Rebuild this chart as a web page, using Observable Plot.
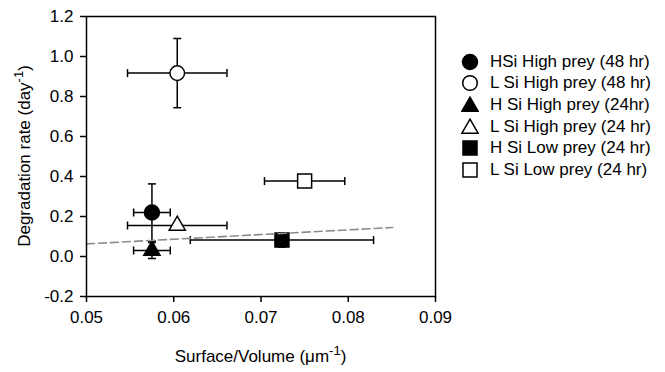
<!DOCTYPE html>
<html>
<head>
<meta charset="utf-8">
<script src="https://cdn.jsdelivr.net/npm/d3@7"></script>
<script src="https://cdn.jsdelivr.net/npm/@observablehq/plot@0.6"></script>
<style>
  html, body { margin: 0; padding: 0; background: #fff; }
  #wrap { position: relative; width: 665px; height: 372px; font-family: "Liberation Sans", Arial, sans-serif; color: #000; }
  #wrap svg.plot g[aria-label$="axis tick"] { stroke-width: 1.5; }
  #legend { position: absolute; left: 0; top: 0; width: 665px; height: 372px; pointer-events: none; }
  .lrow { position: absolute; height: 22px; display: flex; align-items: center; font-size: 17px; white-space: nowrap; }
  .lrow svg { position: absolute; left: 0; top: 2px; }
  .lrow span { position: absolute; left: 29px; line-height: 22px; }
</style>
</head>
<body>
<div id="wrap"></div>
<script>
// ---- data ----
const series = [
  "HSi High prey (48 hr)",
  "L Si High prey (48 hr)",
  "H Si High prey (24hr)",
  "L Si High prey (24 hr)",
  "H Si Low prey (24 hr)",
  "L Si Low prey (24 hr)"
];
const surfaceVolume    = [0.0575, 0.0604, 0.0575, 0.0604, 0.0724, 0.0750];
const surfaceVolumeErr = [0.0021, 0.0057, 0.0021, 0.0057, 0.0105, 0.0046];
const degradation      = [0.220, 0.917, 0.030, 0.155, 0.082, 0.377];
const degradationErr   = [0.143, 0.173, 0.040, 0.010, 0.035, 0.010];
const trendX = [0.050, 0.0851];
const trendY = [0.063, 0.145];
const xTicks = [0.05, 0.06, 0.07, 0.08, 0.09];
const yTicks = [-0.2, 0.0, 0.2, 0.4, 0.6, 0.8, 1.0, 1.2];

// ---- styles ----
const markerStyle = [
  {symbol: "circle",   r: 7.5, fill: "black"},
  {symbol: "circle",   r: 7.3, fill: "white"},
  {symbol: "triangle", r: 6.0, fill: "black"},
  {symbol: "triangle", r: 6.0, fill: "white"},
  {symbol: "square",   r: 7.9, fill: "black"},
  {symbol: "square",   r: 7.9, fill: "white"}
];
const hCap = {draw(ctx, size) { const r = Math.sqrt(size / Math.PI); ctx.moveTo(-r, 0); ctx.lineTo(r, 0); }};
const vCap = {draw(ctx, size) { const r = Math.sqrt(size / Math.PI); ctx.moveTo(0, -r); ctx.lineTo(0, r); }};

const rows = series.map((name, i) => ({
  name, x: surfaceVolume[i], xe: surfaceVolumeErr[i], y: degradation[i], ye: degradationErr[i]
}));
const trend = trendX.map((x, i) => ({x, y: trendY[i]}));

const marks = [];
rows.forEach((d, i) => {
  const data = [d];
  const st = markerStyle[i];
  marks.push(
    Plot.ruleY(data, {y: "y", x1: r => r.x - r.xe, x2: r => r.x + r.xe, stroke: "black", strokeWidth: 1.5}),
    Plot.ruleX(data, {x: "x", y1: r => r.y - r.ye, y2: r => r.y + r.ye, stroke: "black", strokeWidth: 1.5}),
    Plot.dot(data, {x: r => r.x - r.xe, y: "y", symbol: vCap, r: 4, stroke: "black", fill: "none", strokeWidth: 1.5}),
    Plot.dot(data, {x: r => r.x + r.xe, y: "y", symbol: vCap, r: 4, stroke: "black", fill: "none", strokeWidth: 1.5}),
    Plot.dot(data, {x: "x", y: r => r.y - r.ye, symbol: hCap, r: 4, stroke: "black", fill: "none", strokeWidth: 1.5}),
    Plot.dot(data, {x: "x", y: r => r.y + r.ye, symbol: hCap, r: 4, stroke: "black", fill: "none", strokeWidth: 1.5}),
    Plot.dot(data, {x: "x", y: "y", symbol: st.symbol, r: st.r, fill: st.fill, stroke: "black", strokeWidth: 1.5})
  );
});
marks.push(
  Plot.line(trend, {x: "x", y: "y", stroke: "#8c8c8c", strokeWidth: 1.6, strokeDasharray: "8,4"}),
  Plot.frame({stroke: "black", strokeWidth: 1.5})
);

const chart = Plot.plot({
  width: 665,
  height: 372,
  marginLeft: 86,
  marginRight: 230,
  marginTop: 16,
  marginBottom: 76,
  style: {fontSize: "17px", fontFamily: "'Liberation Sans', Arial, sans-serif", color: "black", background: "white", overflow: "visible"},
  x: {domain: [0.05, 0.09], ticks: xTicks, tickFormat: d => d.toFixed(2), tickSize: 6, tickPadding: 8, label: null},
  y: {domain: [-0.2, 1.2], ticks: yTicks, tickFormat: d => d.toFixed(1), tickSize: 6, tickPadding: 7, label: null},
  marks
});
chart.classList.add("plot");
document.getElementById("wrap").appendChild(chart);

// axis titles with superscripts
const svg = d3.select(chart);
const xt = svg.append("text")
  .attr("x", 260.5).attr("y", 362)
  .attr("text-anchor", "middle")
  .attr("font-size", 17).attr("fill", "black");
xt.append("tspan").text("Surface/Volume (\u03bcm");
xt.append("tspan").attr("dy", -7).attr("font-size", 13).text("-1");
xt.append("tspan").attr("dy", 7).text(")");

const yt = svg.append("text")
  .attr("transform", "translate(30,156) rotate(-90)")
  .attr("text-anchor", "middle")
  .attr("font-size", 17).attr("fill", "black");
yt.append("tspan").text("Degradation rate (day");
yt.append("tspan").attr("dy", -7).attr("font-size", 13).text("-1");
yt.append("tspan").attr("dy", 7).text(")");

// legend
const legend = d3.select("#wrap").append("div").attr("id", "legend");
const symMap = {circle: d3.symbolCircle, triangle: d3.symbolTriangle, square: d3.symbolSquare};
series.forEach((name, i) => {
  const st = markerStyle[i];
  const row = legend.append("div").attr("class", "lrow")
    .style("left", "461px").style("top", (50.7 + i * 21.67) + "px");
  const s = row.append("svg").attr("width", 18).attr("height", 18);
  const size = Math.PI * st.r * st.r;
  s.append("path")
    .attr("transform", st.symbol === "triangle" ? "translate(9,10.5)" : "translate(9,9)")
    .attr("d", d3.symbol(symMap[st.symbol], size)())
    .attr("fill", st.fill).attr("stroke", "black").attr("stroke-width", 1.5);
  row.append("span").text(name);
});
</script>
</body>
</html>
